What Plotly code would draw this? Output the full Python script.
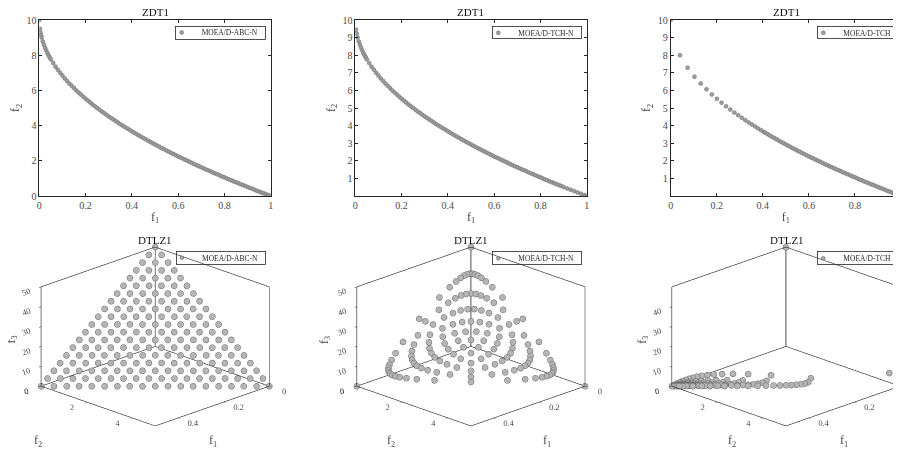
import plotly.graph_objects as go

FONT = "Liberation Serif"

# ---------------- ZDT1 data ----------------
ZDT_ABC_F1 = [0, 0.0025, 0.005, 0.0075, 0.01, 0.015, 0.02, 0.025, 0.03, 0.035, 0.04, 0.045, 0.05,
              0.06, 0.07, 0.08, 0.09, 0.10, 0.11, 0.12, 0.13, 0.14, 0.15, 0.16, 0.17, 0.18, 0.19, 0.20,
              0.21, 0.22, 0.23, 0.24, 0.25, 0.26, 0.27, 0.28, 0.29, 0.30, 0.31, 0.32, 0.33, 0.34, 0.35,
              0.36, 0.37, 0.38, 0.39, 0.40, 0.41, 0.42, 0.43, 0.44, 0.45, 0.46, 0.47, 0.48, 0.49, 0.50,
              0.51, 0.52, 0.53, 0.54, 0.55, 0.56, 0.57, 0.58, 0.59, 0.60, 0.61, 0.62, 0.63, 0.64, 0.65,
              0.66, 0.67, 0.68, 0.69, 0.70, 0.71, 0.72, 0.73, 0.74, 0.75, 0.76, 0.77, 0.78, 0.79, 0.80,
              0.81, 0.82, 0.83, 0.84, 0.85, 0.86, 0.87, 0.88, 0.89, 0.90, 0.91, 0.92, 0.93, 0.94, 0.95,
              0.96, 0.97, 0.98, 0.99, 1.00]
ZDT_ABC_F2 = [10.0, 9.50, 9.29, 9.13, 9.00, 8.78, 8.59, 8.42, 8.27, 8.13, 8.00, 7.88, 7.76,
              7.55, 7.35, 7.17, 7.00, 6.84, 6.68, 6.54, 6.39, 6.26, 6.13, 6.00, 5.88, 5.76, 5.64, 5.53,
              5.42, 5.31, 5.20, 5.10, 5.00, 4.90, 4.80, 4.71, 4.61, 4.52, 4.43, 4.34, 4.26, 4.17, 4.08,
              4.00, 3.92, 3.84, 3.76, 3.68, 3.60, 3.52, 3.44, 3.37, 3.29, 3.22, 3.14, 3.07, 3.00, 2.93,
              2.86, 2.79, 2.72, 2.65, 2.58, 2.52, 2.45, 2.38, 2.32, 2.25, 2.19, 2.13, 2.06, 2.00, 1.94,
              1.88, 1.81, 1.75, 1.69, 1.63, 1.57, 1.51, 1.46, 1.40, 1.34, 1.28, 1.23, 1.17, 1.11, 1.06,
              1.00, 0.94, 0.89, 0.83, 0.78, 0.73, 0.67, 0.62, 0.57, 0.51, 0.46, 0.41, 0.36, 0.30, 0.25,
              0.20, 0.15, 0.10, 0.05, 0.00]

ZDT_TCHN_F1 = [0.003, 0.006, 0.01, 0.015, 0.02, 0.025, 0.03, 0.035, 0.04, 0.045, 0.05,
               0.06, 0.07, 0.08, 0.09, 0.10, 0.11, 0.12, 0.13, 0.14, 0.15, 0.16, 0.17, 0.18, 0.19, 0.20,
               0.21, 0.22, 0.23, 0.24, 0.25, 0.26, 0.27, 0.28, 0.29, 0.30, 0.31, 0.32, 0.33, 0.34, 0.35,
               0.36, 0.37, 0.38, 0.39, 0.40, 0.41, 0.42, 0.43, 0.44, 0.45, 0.46, 0.47, 0.48, 0.49, 0.50,
               0.51, 0.52, 0.53, 0.54, 0.55, 0.56, 0.57, 0.58, 0.59, 0.60, 0.61, 0.62, 0.63, 0.64, 0.65,
               0.66, 0.67, 0.68, 0.69, 0.70, 0.71, 0.72, 0.73, 0.74, 0.75, 0.76, 0.77, 0.78, 0.79, 0.80,
               0.81, 0.82, 0.83, 0.84, 0.85, 0.86, 0.87, 0.88, 0.89, 0.90, 0.915, 0.93, 0.945, 0.96,
               0.975, 0.99, 1.00]
ZDT_TCHN_F2 = [9.45, 9.23, 9.00, 8.78, 8.59, 8.42, 8.27, 8.13, 8.00, 7.88, 7.76,
               7.55, 7.35, 7.17, 7.00, 6.84, 6.68, 6.54, 6.39, 6.26, 6.13, 6.00, 5.88, 5.76, 5.64, 5.53,
               5.42, 5.31, 5.20, 5.10, 5.00, 4.90, 4.80, 4.71, 4.61, 4.52, 4.43, 4.34, 4.26, 4.17, 4.08,
               4.00, 3.92, 3.84, 3.76, 3.68, 3.60, 3.52, 3.44, 3.37, 3.29, 3.22, 3.14, 3.07, 3.00, 2.93,
               2.86, 2.79, 2.72, 2.65, 2.58, 2.52, 2.45, 2.38, 2.32, 2.25, 2.19, 2.13, 2.06, 2.00, 1.94,
               1.88, 1.81, 1.75, 1.69, 1.63, 1.57, 1.51, 1.46, 1.40, 1.34, 1.28, 1.23, 1.17, 1.11, 1.06,
               1.00, 0.94, 0.89, 0.83, 0.78, 0.73, 0.67, 0.62, 0.57, 0.51, 0.43, 0.36, 0.28, 0.20,
               0.13, 0.05, 0.00]

ZDT_TCH_F1 = [0.0, 0.0402, 0.0736, 0.1034, 0.1304, 0.1554, 0.1786, 0.2004, 0.2209, 0.2402, 0.2587,
              0.2763, 0.2930, 0.3089, 0.3242, 0.3388, 0.3529, 0.3665, 0.3796, 0.3923, 0.4045,
              0.41, 0.42, 0.43, 0.44, 0.45, 0.46, 0.47, 0.48, 0.49, 0.50,
              0.51, 0.52, 0.53, 0.54, 0.55, 0.56, 0.57, 0.58, 0.59, 0.60, 0.61, 0.62, 0.63, 0.64, 0.65,
              0.66, 0.67, 0.68, 0.69, 0.70, 0.71, 0.72, 0.73, 0.74, 0.75, 0.76, 0.77, 0.78, 0.79, 0.80,
              0.81, 0.82, 0.83, 0.84, 0.85, 0.86, 0.87, 0.88, 0.89, 0.90, 0.91, 0.92, 0.93, 0.94, 0.95,
              0.96, 0.97, 0.98, 0.99, 1.00]
ZDT_TCH_F2 = [10.0, 8.00, 7.29, 6.78, 6.39, 6.06, 5.77, 5.52, 5.30, 5.10, 4.91,
              4.74, 4.59, 4.44, 4.31, 4.18, 4.06, 3.95, 3.84, 3.74, 3.64,
              3.60, 3.52, 3.44, 3.37, 3.29, 3.22, 3.14, 3.07, 3.00, 2.93,
              2.86, 2.79, 2.72, 2.65, 2.58, 2.52, 2.45, 2.38, 2.32, 2.25, 2.19, 2.13, 2.06, 2.00, 1.94,
              1.88, 1.81, 1.75, 1.69, 1.63, 1.57, 1.51, 1.46, 1.40, 1.34, 1.28, 1.23, 1.17, 1.11, 1.06,
              1.00, 0.94, 0.89, 0.83, 0.78, 0.73, 0.67, 0.62, 0.57, 0.51, 0.46, 0.41, 0.36, 0.30, 0.25,
              0.20, 0.15, 0.10, 0.05, 0.00]

# ---------------- DTLZ1 (scaled) data ----------------
# MOEA/D-ABC-N : rows of constant f3
ABC_F1_ROWS = [
    [.5, .472, .444, .417, .389, .361, .333, .306, .278, .25, .222, .194, .167, .139, .111, .083, .056, .028, 0],
    [.472, .444, .417, .389, .361, .333, .306, .278, .25, .222, .194, .167, .139, .111, .083, .056, .028, 0],
    [.444, .417, .389, .361, .333, .306, .278, .25, .222, .194, .167, .139, .111, .083, .056, .028, 0],
    [.417, .389, .361, .333, .306, .278, .25, .222, .194, .167, .139, .111, .083, .056, .028, 0],
    [.389, .361, .333, .306, .278, .25, .222, .194, .167, .139, .111, .083, .056, .028, 0],
    [.361, .333, .306, .278, .25, .222, .194, .167, .139, .111, .083, .056, .028, 0],
    [.333, .306, .278, .25, .222, .194, .167, .139, .111, .083, .056, .028, 0],
    [.306, .278, .25, .222, .194, .167, .139, .111, .083, .056, .028, 0],
    [.278, .25, .222, .194, .167, .139, .111, .083, .056, .028, 0],
    [.25, .222, .194, .167, .139, .111, .083, .056, .028, 0],
    [.222, .194, .167, .139, .111, .083, .056, .028, 0],
    [.194, .167, .139, .111, .083, .056, .028, 0],
    [.167, .139, .111, .083, .056, .028, 0],
    [.139, .111, .083, .056, .028, 0],
    [.111, .083, .056, .028, 0],
    [.083, .056, .028, 0],
    [.056, .028, 0],
    [.028, 0],
    [0],
]
ABC_F2_ROWS = [
    [0, .28, .56, .83, 1.11, 1.39, 1.67, 1.94, 2.22, 2.5, 2.78, 3.06, 3.33, 3.61, 3.89, 4.17, 4.44, 4.72, 5.0],
    [0, .28, .56, .83, 1.11, 1.39, 1.67, 1.94, 2.22, 2.5, 2.78, 3.06, 3.33, 3.61, 3.89, 4.17, 4.44, 4.72],
    [0, .28, .56, .83, 1.11, 1.39, 1.67, 1.94, 2.22, 2.5, 2.78, 3.06, 3.33, 3.61, 3.89, 4.17, 4.44],
    [0, .28, .56, .83, 1.11, 1.39, 1.67, 1.94, 2.22, 2.5, 2.78, 3.06, 3.33, 3.61, 3.89, 4.17],
    [0, .28, .56, .83, 1.11, 1.39, 1.67, 1.94, 2.22, 2.5, 2.78, 3.06, 3.33, 3.61, 3.89],
    [0, .28, .56, .83, 1.11, 1.39, 1.67, 1.94, 2.22, 2.5, 2.78, 3.06, 3.33, 3.61],
    [0, .28, .56, .83, 1.11, 1.39, 1.67, 1.94, 2.22, 2.5, 2.78, 3.06, 3.33],
    [0, .28, .56, .83, 1.11, 1.39, 1.67, 1.94, 2.22, 2.5, 2.78, 3.06],
    [0, .28, .56, .83, 1.11, 1.39, 1.67, 1.94, 2.22, 2.5, 2.78],
    [0, .28, .56, .83, 1.11, 1.39, 1.67, 1.94, 2.22, 2.5],
    [0, .28, .56, .83, 1.11, 1.39, 1.67, 1.94, 2.22],
    [0, .28, .56, .83, 1.11, 1.39, 1.67, 1.94],
    [0, .28, .56, .83, 1.11, 1.39, 1.67],
    [0, .28, .56, .83, 1.11, 1.39],
    [0, .28, .56, .83, 1.11],
    [0, .28, .56, .83],
    [0, .28, .56],
    [0, .28],
    [0],
]
ABC_F3_LEVELS = [0, 2.78, 5.56, 8.33, 11.11, 13.89, 16.67, 19.44, 22.22, 25.0, 27.78, 30.56,
                 33.33, 36.11, 38.89, 41.67, 44.44, 47.22, 50.0]

# MOEA/D-TCH-N
TCHN_F1 = [
    .2424, .1596, .1187, .0942, .0779, .0663, .0575, .0506, .0450, .0403, .0362, .0325, .0290, .0254, .0213, .0152,
    .3192, .2334, .1831, .15, .1265, .1087, .0948, .0834, .0737, .0652, .0575, .05, .0423, .0334, .0213,
    .3560, .2747, .2222, .1854, .1579, .1364, .1188, .1040, .0909, .0790, .0674, .0556, .0423, .0254,
    .3768, .3, .2472, .2084, .1782, .1539, .1334, .1154, .0990, .0834, .0674, .05, .0290,
    .3896, .3161, .2632, .2228, .1905, .1636, .1402, .1191, .0990, .0790, .0575, .0325,
    .3976, .3261, .2728, .2308, .1963, .1667, .1402, .1154, .0909, .0652, .0362,
    .4023, .3316, .2773, .2334, .1963, .1636, .1334, .1040, .0737, .0403,
    .4045, .3334, .2773, .2308, .1905, .1539, .1188, .0834, .0450,
    .4045, .3316, .2728, .2228, .1782, .1364, .0948, .0506,
    .4023, .3261, .2632, .2084, .1579, .1087, .0575,
    .3976, .3161, .2472, .1854, .1265, .0663,
    .3896, .3, .2222, .15, .0779,
    .3768, .2747, .1831, .0942,
    .3560, .2334, .1187,
    .3192, .1596,
    .2424,
    .5, 0, 0]
TCHN_F2 = [
    .152, .213, .254, .290, .325, .362, .403, .450, .506, .575, .663, .779, .942, 1.187, 1.596, 2.424,
    .213, .334, .423, .5, .575, .652, .737, .834, .948, 1.087, 1.265, 1.5, 1.831, 2.334, 3.192,
    .254, .423, .556, .674, .790, .909, 1.040, 1.188, 1.364, 1.579, 1.854, 2.222, 2.747, 3.560,
    .290, .5, .674, .834, .990, 1.154, 1.334, 1.539, 1.782, 2.084, 2.472, 3.0, 3.768,
    .325, .575, .790, .990, 1.191, 1.402, 1.636, 1.905, 2.228, 2.632, 3.161, 3.896,
    .362, .652, .909, 1.154, 1.402, 1.667, 1.963, 2.308, 2.728, 3.261, 3.976,
    .403, .737, 1.040, 1.334, 1.636, 1.963, 2.334, 2.773, 3.316, 4.023,
    .450, .834, 1.188, 1.539, 1.905, 2.308, 2.773, 3.334, 4.045,
    .506, .948, 1.364, 1.782, 2.228, 2.728, 3.316, 4.045,
    .575, 1.087, 1.579, 2.084, 2.632, 3.261, 4.023,
    .663, 1.265, 1.854, 2.472, 3.161, 3.976,
    .779, 1.5, 2.222, 3.0, 3.896,
    .942, 1.831, 2.747, 3.768,
    1.187, 2.334, 3.560,
    1.596, 3.192,
    2.424,
    0, 5.0, 0]
TCHN_F3 = [
    24.24, 31.92, 35.60, 37.68, 38.96, 39.76, 40.23, 40.45, 40.45, 40.23, 39.76, 38.96, 37.68, 35.60, 31.92, 24.24,
    15.96, 23.34, 27.47, 30.0, 31.61, 32.61, 33.16, 33.34, 33.16, 32.61, 31.61, 30.0, 27.47, 23.34, 15.96,
    11.87, 18.31, 22.22, 24.72, 26.32, 27.28, 27.73, 27.73, 27.28, 26.32, 24.72, 22.22, 18.31, 11.87,
    9.42, 15.0, 18.54, 20.84, 22.28, 23.08, 23.34, 23.08, 22.28, 20.84, 18.54, 15.0, 9.42,
    7.79, 12.65, 15.79, 17.82, 19.05, 19.63, 19.63, 19.05, 17.82, 15.79, 12.65, 7.79,
    6.63, 10.87, 13.64, 15.39, 16.36, 16.67, 16.36, 15.39, 13.64, 10.87, 6.63,
    5.75, 9.48, 11.88, 13.34, 14.02, 14.02, 13.34, 11.88, 9.48, 5.75,
    5.06, 8.34, 10.40, 11.54, 11.91, 11.54, 10.40, 8.34, 5.06,
    4.50, 7.37, 9.09, 9.90, 9.90, 9.09, 7.37, 4.50,
    4.03, 6.52, 7.90, 8.34, 7.90, 6.52, 4.03,
    3.62, 5.75, 6.74, 6.74, 5.75, 3.62,
    3.25, 5.0, 5.56, 5.0, 3.25,
    2.90, 4.23, 4.23, 2.90,
    2.54, 3.34, 2.54,
    2.13, 2.13,
    1.52,
    0, 0, 50.0]

# MOEA/D-TCH
TCH_F1 = [
    .492, .484, .476, .467, .458, .449, .439, .428, .416, .402, .387, .368, .344, .311, .263, .181,
    .494, .488, .482, .475, .467, .459, .449, .439, .426, .411, .392, .368, .334, .283, .194,
    .495, .489, .483, .476, .469, .460, .450, .438, .424, .405, .381, .347, .295, .204,
    .495, .489, .483, .476, .468, .459, .447, .434, .416, .392, .359, .307, .214,
    .495, .489, .483, .475, .466, .455, .442, .425, .402, .369, .318, .225,
    .495, .489, .482, .473, .463, .451, .434, .412, .380, .330, .236,
    .494, .488, .480, .470, .459, .443, .422, .391, .342, .248,
    .494, .487, .478, .467, .452, .432, .403, .355, .262,
    .493, .485, .475, .461, .442, .414, .368, .276,
    .492, .483, .470, .453, .427, .383, .293,
    .491, .480, .464, .440, .399, .311,
    .490, .475, .453, .416, .332,
    .487, .468, .434, .356,
    .484, .454, .384,
    .476, .416,
    .454,
    .5, 0, 0, 0]
TCH_F2 = [
    .031, .064, .102, .144, .191, .245, .307, .380, .468, .575, .709, .882, 1.117, 1.452, 1.974, 2.899,
    .033, .070, .111, .158, .212, .275, .350, .439, .548, .685, .863, 1.103, 1.447, 1.977, 2.913,
    .035, .075, .121, .173, .234, .307, .394, .501, .635, .811, 1.048, 1.389, 1.919, 2.861,
    .038, .082, .132, .190, .260, .344, .448, .578, .749, .980, 1.315, 1.840, 2.787,
    .041, .089, .145, .211, .291, .391, .516, .680, .905, 1.232, 1.750, 2.698,
    .045, .098, .160, .237, .331, .450, .608, .824, 1.141, 1.649, 2.597,
    .049, .108, .180, .269, .382, .532, .738, 1.043, 1.538, 2.482,
    .055, .122, .205, .311, .452, .648, .939, 1.418, 2.355,
    .062, .139, .237, .369, .553, .829, 1.289, 2.212,
    .070, .161, .282, .453, .711, 1.149, 2.050,
    .082, .192, .348, .587, .996, 1.869,
    .098, .238, .454, .831, 1.662,
    .122, .312, .651, 1.426,
    .161, .454, 1.152,
    .238, .832,
    .454,
    0, 5.0, 0, 4.525]
TCH_F3 = [
    .49, .97, 1.43, 1.87, 2.29, 2.69, 3.07, 3.42, 3.74, 4.02, 4.25, 4.41, 4.47, 4.36, 3.95, 2.90,
    .25, .49, .72, .95, 1.17, 1.38, 1.57, 1.75, 1.92, 2.06, 2.16, 2.21, 2.17, 1.98, 1.46,
    .17, .33, .48, .64, .78, .92, 1.05, 1.17, 1.27, 1.35, 1.40, 1.39, 1.28, .95,
    .12, .24, .36, .48, .59, .69, .78, .87, .94, .98, .99, .92, .70,
    .10, .20, .29, .38, .47, .55, .62, .68, .72, .74, .70, .54,
    .08, .16, .24, .32, .39, .45, .51, .55, .57, .55, .43,
    .07, .14, .21, .27, .33, .38, .42, .45, .44, .35,
    .06, .12, .18, .23, .28, .32, .35, .35, .29,
    .05, .11, .16, .20, .25, .28, .29, .25,
    .05, .10, .14, .18, .21, .23, .21,
    .04, .09, .13, .16, .18, .17,
    .04, .08, .11, .14, .14,
    .04, .07, .10, .11,
    .03, .06, .08,
    .03, .06,
    .03,
    0, 0, 49.9, 4.75]

F1_RANGE = [0, 0.5]
F2_RANGE = [0, 5.0]
F3_RANGE = [0, 50.0]

# flatten ABC rows (f3 constant in each row)
ABC_F1, ABC_F2, ABC_F3 = [], [], []
for r1, r2, lev in zip(ABC_F1_ROWS, ABC_F2_ROWS, ABC_F3_LEVELS):
    ABC_F1 += r1
    ABC_F2 += r2
    ABC_F3 += [lev] * len(r1)

# ---------------- layout helpers (page has an 8px body margin) ----------------
OFF = 8
FW, FH = 893, 442


def PX(x):
    return (x - OFF) / FW


def PY(y):
    return 1 - (y - OFF) / FH


LINE_C = "#262626"
TXT_C = "#4a4a4a"

fig = go.Figure()

m2d = dict(size=4, color="#9c9c9c", line=dict(color="#6f6f6f", width=0.5))
m3d = dict(size=3.5, color="#b5b5b5", line=dict(color="#6a6a6a", width=0.8))

fig.add_trace(go.Scatter(x=ZDT_ABC_F1, y=ZDT_ABC_F2, mode="markers", name="MOEA/D-ABC-N",
                         marker=m2d, xaxis="x", yaxis="y", legend="legend"))
fig.add_trace(go.Scatter(x=ZDT_TCHN_F1, y=ZDT_TCHN_F2, mode="markers", name="MOEA/D-TCH-N",
                         marker=m2d, xaxis="x2", yaxis="y2", legend="legend2"))
fig.add_trace(go.Scatter(x=ZDT_TCH_F1, y=ZDT_TCH_F2, mode="markers", name="MOEA/D-TCH",
                         marker=m2d, xaxis="x3", yaxis="y3", legend="legend3"))

# box (MATLAB 'back' box style) edges built from axis ranges
X0, X1 = F1_RANGE
Y0, Y1 = F2_RANGE
Z0, Z1 = F3_RANGE
BX = [X0, X1, X1, X0, X0, None, X1, X1, None, X0, X0, None, X1, X0, X0, None, X0, X0]
BY = [Y0, Y0, Y1, Y1, Y0, None, Y0, Y0, None, Y1, Y1, None, Y0, Y0, Y1, None, Y0, Y0]
BZ = [Z0, Z0, Z0, Z0, Z0, None, Z0, Z1, None, Z0, Z1, None, Z1, Z1, Z1, None, Z0, Z1]

for sc, (f1, f2, f3, name, lg, back_c, back_w) in zip(
        ["scene", "scene2", "scene3"],
        [(ABC_F1, ABC_F2, ABC_F3, "MOEA/D-ABC-N", "legend4", LINE_C, 1.2),
         (TCHN_F1, TCHN_F2, TCHN_F3, "MOEA/D-TCH-N", "legend5", "#8a8a8a", 3),
         (TCH_F1, TCH_F2, TCH_F3, "MOEA/D-TCH", "legend6", "#8a8a8a", 3)]):
    fig.add_trace(go.Scatter3d(x=BX[:-3], y=BY[:-3], z=BZ[:-3], mode="lines", showlegend=False,
                               hoverinfo="skip", line=dict(color=LINE_C, width=1.2), scene=sc))
    fig.add_trace(go.Scatter3d(x=BX[-2:], y=BY[-2:], z=BZ[-2:], mode="lines", showlegend=False,
                               hoverinfo="skip", line=dict(color=back_c, width=back_w), scene=sc))
    fig.add_trace(go.Scatter3d(x=f1, y=f2, z=f3, mode="markers", name=name, marker=m3d,
                               scene=sc, legend=lg))

ax2d = dict(showline=True, linecolor=LINE_C, linewidth=0.8, mirror="ticks", ticks="inside",
            ticklen=3, tickcolor=LINE_C, tickwidth=0.8, showgrid=False, zeroline=False,
            automargin=False, tickfont=dict(family=FONT, size=10, color=TXT_C))
xt = dict(text="f<sub>1</sub>", font=dict(family=FONT, size=12, color=TXT_C), standoff=2)
yt = dict(text="f<sub>2</sub>", font=dict(family=FONT, size=12, color=TXT_C), standoff=4)

TOP_Y = [PY(196), PY(20)]
fig.update_layout(
    xaxis=dict(ax2d, domain=[PX(39.3), PX(270.7)], range=[0, 1], tickvals=[0, 0.2, 0.4, 0.6, 0.8, 1],
               anchor="y", title=xt),
    yaxis=dict(ax2d, domain=TOP_Y, range=[0, 10], tickvals=[0, 2, 4, 6, 8, 10], anchor="x", title=yt),
    xaxis2=dict(ax2d, domain=[PX(355.3), PX(586.7)], range=[0, 1], tickvals=[0, 0.2, 0.4, 0.6, 0.8, 1],
                anchor="y2", title=xt),
    yaxis2=dict(ax2d, domain=TOP_Y, range=[0.0, 10], tickvals=[1, 2, 3, 4, 5, 6, 7, 8, 9, 10],
                anchor="x2", title=yt),
    xaxis3=dict(ax2d, domain=[PX(670.7), 1.0], range=[0, 1], tickvals=[0, 0.2, 0.4, 0.6, 0.8],
                anchor="y3", title=xt),
    yaxis3=dict(ax2d, domain=TOP_Y, range=[0.0, 10], tickvals=[1, 2, 3, 4, 5, 6, 7, 8, 9, 10],
                anchor="x3", title=yt),
)

DIR = (0.6626, 0.6626, 0.3486)
R = 3.0
ZOOM = 1.46
PX_PER_UNIT = 112.4


def ax3d(rng, tv, tangle=None):
    d = dict(range=rng, tickvals=tv, title=dict(text=""),
             showgrid=False, showbackground=False, showline=False, zeroline=False,
             showspikes=False, ticks="outside", ticklen=3, tickcolor=LINE_C,
             tickfont=dict(family=FONT, size=10, color=TXT_C), autorange=False)
    if tangle is not None:
        d["tickangle"] = tangle
    return d


SC_Y = [PY(336.5) - 0.25, PY(336.5) + 0.25]
TFONT = dict(family=FONT, size=12, color=TXT_C)


def scene_cfg(dom, box_cx, ztv, f3_dx, f2_dx, f1_dx):
    dom_cx = OFF + FW * (dom[0] + dom[1]) / 2
    shift = box_cx - dom_cx
    k = shift / PX_PER_UNIT / 2 ** 0.5
    c = dict(x=k, y=-k, z=0)
    eye = dict(x=k + R * DIR[0], y=-k + R * DIR[1], z=R * DIR[2])
    ann = [
        dict(x=X1, y=Y0, z=(Z0 + Z1) / 2, text="f<sub>3</sub>", showarrow=False, xshift=f3_dx,
             yshift=-3, textangle=-90, font=TFONT),
        dict(x=X1, y=Y1, z=Z0, text="f<sub>2</sub>", showarrow=False, xshift=f2_dx, yshift=-15,
             font=TFONT),
        dict(x=X1, y=Y1, z=Z0, text="f<sub>1</sub>", showarrow=False, xshift=f1_dx, yshift=-15,
             font=TFONT),
    ]
    return dict(domain=dict(x=dom, y=SC_Y),
                xaxis=ax3d(F1_RANGE, [0, 0.2, 0.4], 0),
                yaxis=ax3d(F2_RANGE, [0, 2, 4], 0),
                zaxis=ax3d(F3_RANGE, ztv),
                aspectmode="manual", aspectratio=dict(x=ZOOM, y=ZOOM, z=0.657 * ZOOM),
                camera=dict(projection=dict(type="orthographic"), center=c, eye=eye,
                            up=dict(x=0, y=0, z=1)),
                annotations=ann,
                bgcolor="white")


fig.update_layout(
    scene=scene_cfg([0.0, 1 / 3], 155.0, [0, 10, 20, 30, 40, 50], -30, -117, 58),
    scene2=scene_cfg([1 / 3, 2 / 3], 470.7, [0, 10, 20, 30, 40, 50], -32, -79, 77),
    scene3=scene_cfg([2 / 3, 1.0], 786.7, [0, 10, 20, 30, 40], -30, -54, 58),
)

# legends: plotly legends (transparent) framed by MATLAB-like compact boxes
LEG_BOXES = [(175.7, 26, 265.7, 39), (492.3, 26.7, 581.7, 39), (817.3, 26.7, 896.7, 39),
             (176, 251, 265.7, 264.3), (492.3, 251.7, 581.7, 265), (817.3, 251.7, 896, 265)]
leg = dict(xanchor="left", yanchor="top", bgcolor="rgba(0,0,0,0)", borderwidth=0,
           font=dict(family=FONT, size=7.5, color=LINE_C), itemwidth=30, tracegroupgap=0)
names = ["legend", "legend2", "legend3", "legend4", "legend5", "legend6"]
fig.update_layout({n: dict(leg, x=PX(b[0] - 14), y=PY((b[1] + b[3]) / 2 - 14.5))
                   for n, b in zip(names, LEG_BOXES)})

anns = []
titles = [("ZDT1", 155, 12), ("ZDT1", 471, 12), ("ZDT1", 786, 12),
          ("DTLZ1", 155, 240), ("DTLZ1", 470.7, 240), ("DTLZ1", 786.7, 240)]
for t, x, y in titles:
    anns.append(dict(text=t, x=PX(x), y=PY(y), xref="paper", yref="paper", showarrow=False,
                     xanchor="center", yanchor="middle", font=dict(family=FONT, size=11, color="#111111")))
for b in LEG_BOXES:
    anns.append(dict(text=" ", x=PX((b[0] + b[2]) / 2), y=PY((b[1] + b[3]) / 2), xref="paper",
                     yref="paper", showarrow=False, xanchor="center", yanchor="middle",
                     width=b[2] - b[0] - 1, height=b[3] - b[1] - 1, borderpad=0,
                     bordercolor=LINE_C, borderwidth=0.8, bgcolor="rgba(0,0,0,0)",
                     font=dict(size=6)))
fig.update_layout(annotations=anns)

fig.update_layout(width=FW, height=FH, margin=dict(l=0, r=0, t=0, b=0, autoexpand=False),
                  paper_bgcolor="white", plot_bgcolor="white", hovermode=False,
                  font=dict(family=FONT))

fig.write_html("out.html")
